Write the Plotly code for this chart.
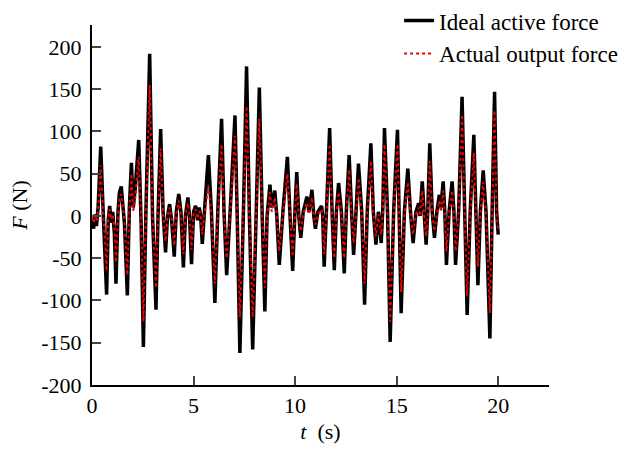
import plotly.graph_objects as go

# time (s) of extrema
t = [0.00, 0.08, 0.15, 0.22, 0.30, 0.43, 0.55, 0.62, 0.72, 0.80, 0.87, 0.95, 1.02, 1.10, 1.18,
     1.28, 1.35, 1.44, 1.52, 1.60, 1.74, 1.84, 1.94, 2.03, 2.12, 2.30, 2.42, 2.53, 2.65, 2.84,
     2.98, 3.15, 3.25, 3.38, 3.50, 3.62, 3.72, 3.82, 3.92, 4.05, 4.15, 4.27, 4.38, 4.50, 4.60,
     4.72, 4.80, 4.90, 5.00, 5.10, 5.20, 5.28, 5.35, 5.43, 5.55, 5.73, 5.88, 6.05, 6.20, 6.38,
     6.50, 6.63, 6.80, 7.04, 7.15, 7.28, 7.45, 7.61, 7.75, 7.91, 8.08, 8.24, 8.38, 8.51, 8.62,
     8.76, 8.85, 9.00, 9.10, 9.22, 9.40, 9.62, 9.75, 9.88, 10.00, 10.08, 10.18, 10.28, 10.40, 10.58,
     10.68, 10.83, 10.92, 11.00, 11.12, 11.30, 11.36, 11.43, 11.55, 11.70, 11.82, 11.93, 12.03, 12.14, 12.28,
     12.42, 12.52, 12.66, 12.78, 12.88, 13.00, 13.12, 13.28, 13.42, 13.55, 13.73, 13.85, 13.98, 14.10, 14.24,
     14.32, 14.40, 14.55, 14.68, 14.85, 15.04, 15.12, 15.22, 15.38, 15.55, 15.68, 15.81, 15.95, 16.08, 16.15,
     16.26, 16.35, 16.45, 16.53, 16.63, 16.75, 16.86, 16.98, 17.10, 17.18, 17.29, 17.37, 17.45, 17.58, 17.73,
     17.82, 17.90, 18.05, 18.22, 18.35, 18.47, 18.62, 18.80, 18.90, 19.00, 19.12, 19.26, 19.40, 19.59, 19.70,
     19.82, 19.92, 20.00]

ideal_force = [-5, -15, 2, -12, 10, 82, 5, -30, -93, -5, 12, -8, 5, -20, -80,
               5, 28, 35, 15, -10, -94, 10, 63, 10, 30, 90, -10, -155, 0, 192,
               0, -111, 0, 103, 5, -43, 0, 14, -5, -48, 5, 26, 5, -61, 0,
               22, 0, -57, 5, 12, -5, 10, 0, -33, 10, 72, 5, -103, 10, 115,
               5, -70, 5, 119, 0, -162, 0, 177, 0, -158, 0, 152, 0, -113, 0,
               37, 10, 30, 0, -58, 5, 70, 0, -65, 10, 52, 0, -26, 5, 23,
               5, 31, 0, -15, 5, 12, 0, -60, 10, 104, 5, -64, 5, 39, 5,
               -68, 5, 72, 5, -46, 5, 62, 5, -105, 5, 86, 5, -34, 5, -32,
               10, 104, 5, -149, 5, 102, 5, -115, 5, 56, 5, -32, 5, 15, 0,
               41, 5, -34, 5, 86, 5, -26, 5, 25, 10, 41, 5, -58, 5, 41,
               5, -58, 5, 141, 5, -117, 5, 96, 5, -82, 5, 54, 5, -145, 5,
               147, 5, -22]

actual_force = [-2, -8, 0, -6, 5, 60, 2, -20, -65, -2, 8, -4, 2, -12, -55,
                2, 20, 26, 10, -6, -70, 5, 50, 6, 20, 70, -6, -125, 0, 155,
                0, -85, 0, 80, 2, -30, 0, 10, -3, -35, 2, 18, 2, -45, 0,
                15, 0, -40, 2, 8, -3, 6, 0, -22, 5, 35, 2, -80, 5, 85,
                2, -50, 2, 95, 0, -120, 0, 130, 0, -120, 0, 115, 0, -85, 0,
                28, 5, 22, 0, -42, 2, 50, 0, -48, 5, 38, 0, -18, 2, 16,
                2, 22, 0, -10, 2, 8, 0, -45, 5, 85, 2, -50, 2, 28, 2,
                -50, 2, 55, 2, -32, 2, 45, 2, -80, 2, 65, 2, -24, 2, -22,
                5, 85, 2, -125, 2, 85, 2, -90, 2, 40, 2, -22, 2, 10, 0,
                30, 2, -24, 2, 65, 2, -18, 2, 18, 5, 30, 2, -42, 2, 30,
                2, -42, 2, 120, 2, -95, 2, 75, 2, -60, 2, 40, 2, -115, 2,
                125, 2, -18]

x_ticks = [0, 5, 10, 15, 20]
y_ticks = [-200, -150, -100, -50, 0, 50, 100, 150, 200]
y_tick_text = ["-200", "-150", "-100", "-50", "0", "50", "100", "150", "200"]

FONT = "Liberation Serif"

fig = go.Figure()
fig.add_trace(go.Scatter(x=t, y=ideal_force, mode="lines", name="Ideal active force",
                         line=dict(color="black", width=3.5)))
fig.add_trace(go.Scatter(x=t, y=actual_force, mode="lines", name="Actual output force",
                         line=dict(color="#ee0000", width=2, dash="dot")))

fig.update_layout(
    width=627, height=451,
    margin=dict(l=92, r=78, t=25, b=66, autoexpand=False),
    paper_bgcolor="white", plot_bgcolor="white",
    font=dict(family=FONT, size=22, color="black"),
    showlegend=True,
    legend=dict(x=0.672, y=1.072, xanchor="left", yanchor="top",
                font=dict(family=FONT, size=23, color="black"),
                bgcolor="rgba(0,0,0,0)", tracegroupgap=0),
    xaxis=dict(range=[0, 22.5], tickvals=x_ticks, ticks="inside", ticklen=9, tickwidth=2,
               showline=True, linewidth=2, linecolor="black", showgrid=False, zeroline=False,
               tickfont=dict(family=FONT, size=22),
               title=dict(text="<i>t</i>  (s)", font=dict(family=FONT, size=22), standoff=6)),
    yaxis=dict(range=[-200, 226], tickvals=y_ticks, ticktext=y_tick_text, ticks="inside",
               ticklen=9, tickwidth=2, ticklabelstandoff=4,
               showline=True, linewidth=2, linecolor="black", showgrid=False, zeroline=False,
               tickfont=dict(family=FONT, size=22),
               title=dict(text="<i>F</i> (N)", font=dict(family=FONT, size=22), standoff=8)),
)

fig.write_html("out.html")
